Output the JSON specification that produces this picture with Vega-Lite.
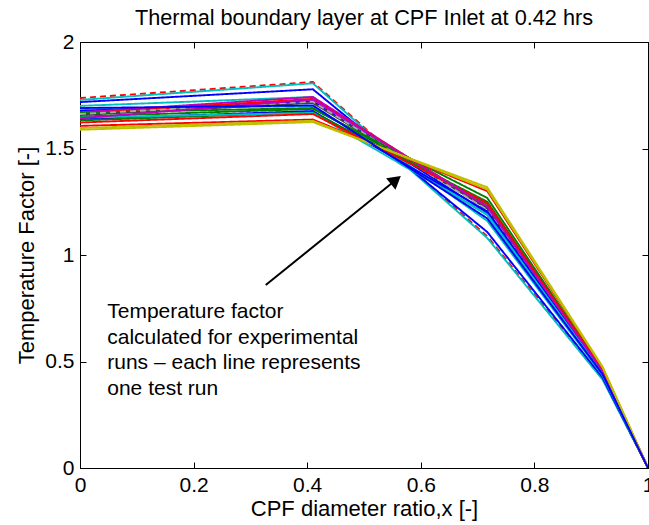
{
  "$schema": "https://vega.github.io/schema/vega-lite/v6.json",
  "width": 568,
  "height": 426,
  "autosize": {"type": "none"},
  "padding": {"left": 80, "top": 42, "right": 1, "bottom": 57},
  "title": {"text": "Thermal boundary layer at CPF Inlet at 0.42 hrs", "fontSize": 21.7, "fontWeight": "normal", "font": "Liberation Sans", "color": "#000000", "anchor": "middle", "frame": "group", "baseline": "alphabetic", "offset": -16},
  "config": {
    "font": "Liberation Sans",
    "view": {"stroke": "#000000", "strokeWidth": 1},
    "axis": {"grid": false, "domainColor": "#000000", "tickColor": "#000000", "labelColor": "#000000", "titleColor": "#000000", "labelFontSize": 21, "titleFontSize": 22, "titleFontWeight": "normal", "labelFont": "Liberation Sans", "titleFont": "Liberation Sans", "tickSize": -6, "labelFlush": false, "labelOverlap": false}
  },
  "datasets": {
    "runs": [
      {"run": "r01", "x": 0, "y": 1.737}, {"run": "r01", "x": 0.41, "y": 1.812}, {"run": "r01", "x": 0.717, "y": 1.088}, {"run": "r01", "x": 0.92, "y": 0.42}, {"run": "r01", "x": 1, "y": 0},
      {"run": "r02", "x": 0, "y": 1.728}, {"run": "r02", "x": 0.41, "y": 1.806}, {"run": "r02", "x": 0.717, "y": 1.08}, {"run": "r02", "x": 0.92, "y": 0.415}, {"run": "r02", "x": 1, "y": 0},
      {"run": "r03", "x": 0, "y": 1.718}, {"run": "r03", "x": 0.41, "y": 1.778}, {"run": "r03", "x": 0.717, "y": 1.108}, {"run": "r03", "x": 0.92, "y": 0.425}, {"run": "r03", "x": 1, "y": 0},
      {"run": "r04", "x": 0, "y": 1.70}, {"run": "r04", "x": 0.41, "y": 1.742}, {"run": "r04", "x": 0.717, "y": 1.16}, {"run": "r04", "x": 0.92, "y": 0.435}, {"run": "r04", "x": 1, "y": 0},
      {"run": "r05", "x": 0, "y": 1.683}, {"run": "r05", "x": 0.41, "y": 1.70}, {"run": "r05", "x": 0.717, "y": 1.188}, {"run": "r05", "x": 0.92, "y": 0.44}, {"run": "r05", "x": 1, "y": 0},
      {"run": "r06", "x": 0, "y": 1.676}, {"run": "r06", "x": 0.41, "y": 1.722}, {"run": "r06", "x": 0.717, "y": 1.198}, {"run": "r06", "x": 0.92, "y": 0.445}, {"run": "r06", "x": 1, "y": 0},
      {"run": "r07", "x": 0, "y": 1.67}, {"run": "r07", "x": 0.41, "y": 1.742}, {"run": "r07", "x": 0.717, "y": 1.222}, {"run": "r07", "x": 0.92, "y": 0.45}, {"run": "r07", "x": 1, "y": 0},
      {"run": "r08", "x": 0, "y": 1.664}, {"run": "r08", "x": 0.41, "y": 1.733}, {"run": "r08", "x": 0.717, "y": 1.23}, {"run": "r08", "x": 0.92, "y": 0.452}, {"run": "r08", "x": 1, "y": 0},
      {"run": "r09", "x": 0, "y": 1.668}, {"run": "r09", "x": 0.41, "y": 1.69}, {"run": "r09", "x": 0.717, "y": 1.24}, {"run": "r09", "x": 0.92, "y": 0.455}, {"run": "r09", "x": 1, "y": 0},
      {"run": "r10", "x": 0, "y": 1.657}, {"run": "r10", "x": 0.41, "y": 1.714}, {"run": "r10", "x": 0.717, "y": 1.218}, {"run": "r10", "x": 0.92, "y": 0.45}, {"run": "r10", "x": 1, "y": 0},
      {"run": "r11", "x": 0, "y": 1.662}, {"run": "r11", "x": 0.41, "y": 1.72}, {"run": "r11", "x": 0.717, "y": 1.212}, {"run": "r11", "x": 0.92, "y": 0.448}, {"run": "r11", "x": 1, "y": 0},
      {"run": "r12", "x": 0, "y": 1.65}, {"run": "r12", "x": 0.41, "y": 1.686}, {"run": "r12", "x": 0.717, "y": 1.268}, {"run": "r12", "x": 0.92, "y": 0.462}, {"run": "r12", "x": 1, "y": 0},
      {"run": "r13", "x": 0, "y": 1.638}, {"run": "r13", "x": 0.41, "y": 1.676}, {"run": "r13", "x": 0.717, "y": 1.205}, {"run": "r13", "x": 0.92, "y": 0.452}, {"run": "r13", "x": 1, "y": 0},
      {"run": "r14", "x": 0, "y": 1.632}, {"run": "r14", "x": 0.41, "y": 1.67}, {"run": "r14", "x": 0.717, "y": 1.25}, {"run": "r14", "x": 0.92, "y": 0.458}, {"run": "r14", "x": 1, "y": 0},
      {"run": "r15", "x": 0, "y": 1.645}, {"run": "r15", "x": 0.41, "y": 1.667}, {"run": "r15", "x": 0.717, "y": 1.19}, {"run": "r15", "x": 0.92, "y": 0.445}, {"run": "r15", "x": 1, "y": 0},
      {"run": "r16", "x": 0, "y": 1.622}, {"run": "r16", "x": 0.41, "y": 1.662}, {"run": "r16", "x": 0.717, "y": 1.245}, {"run": "r16", "x": 0.92, "y": 0.46}, {"run": "r16", "x": 1, "y": 0},
      {"run": "r17", "x": 0, "y": 1.642}, {"run": "r17", "x": 0.41, "y": 1.73}, {"run": "r17", "x": 0.717, "y": 1.228}, {"run": "r17", "x": 0.92, "y": 0.455}, {"run": "r17", "x": 1, "y": 0},
      {"run": "r18", "x": 0, "y": 1.606}, {"run": "r18", "x": 0.41, "y": 1.636}, {"run": "r18", "x": 0.717, "y": 1.30}, {"run": "r18", "x": 0.92, "y": 0.47}, {"run": "r18", "x": 1, "y": 0},
      {"run": "r19", "x": 0, "y": 1.596}, {"run": "r19", "x": 0.41, "y": 1.63}, {"run": "r19", "x": 0.717, "y": 1.308}, {"run": "r19", "x": 0.92, "y": 0.472}, {"run": "r19", "x": 1, "y": 0},
      {"run": "r20", "x": 0, "y": 1.588}, {"run": "r20", "x": 0.41, "y": 1.624}, {"run": "r20", "x": 0.717, "y": 1.318}, {"run": "r20", "x": 0.92, "y": 0.476}, {"run": "r20", "x": 1, "y": 0},
      {"run": "r21", "x": 0, "y": 1.69}, {"run": "r21", "x": 0.41, "y": 1.702}, {"run": "r21", "x": 0.717, "y": 1.172}, {"run": "r21", "x": 0.92, "y": 0.44}, {"run": "r21", "x": 1, "y": 0}
    ],
    "arrow": [{"x": 0.327, "y": 0.859, "x2": 0.556, "y2": 1.352, "angle": 51}],
    "note": [{"x": 0.048, "y": 0.732, "label": "Temperature factor\ncalculated for experimental\nruns – each line represents\none test run"}]
  },
  "layer": [
    {
      "data": {"name": "runs"},
      "mark": {"type": "line", "strokeWidth": 1.9, "clip": true},
      "encoding": {
        "x": {"field": "x", "type": "quantitative", "scale": {"domain": [0, 1], "nice": false, "zero": false}, "axis": {"values": [0, 0.2, 0.4, 0.6, 0.8, 1], "format": "~g", "title": "CPF diameter ratio,x [-]", "labelPadding": 12, "titlePadding": 3}},
        "y": {"field": "y", "type": "quantitative", "scale": {"domain": [0, 2], "nice": false}, "axis": {"values": [0, 0.5, 1, 1.5, 2], "format": "~g", "title": "Temperature Factor [-]", "labelPadding": 12, "titlePadding": 6}},
        "color": {"field": "run", "type": "nominal", "legend": null, "scale": {
          "domain": ["r01","r02","r03","r04","r05","r06","r07","r08","r09","r10","r11","r12","r13","r14","r15","r16","r17","r18","r19","r20","r21"],
          "range": ["#ff0000","#00bfbf","#0000ff","#00bfbf","#00bfbf","#0000ff","#bf00bf","#ff0000","#008000","#404040","#a8a8a8","#008000","#0000ff","#008000","#00bfbf","#ff0000","#bf00bf","#ff0000","#bfbf00","#bfbf00","#0000ff"]}},
        "strokeDash": {"field": "run", "type": "nominal", "legend": null, "scale": {
          "domain": ["r01","r02","r03","r04","r05","r06","r07","r08","r09","r10","r11","r12","r13","r14","r15","r16","r17","r18","r19","r20","r21"],
          "range": [[6,4],[1,0],[1,0],[1,0],[1,0],[1,0],[1,0],[1,0],[1,0],[1,0],[6,4],[1,0],[1,0],[1,0],[1,0],[1,0],[1,0],[1,0],[1,0],[1,0],[1,0]]}}
      }
    },
    {
      "data": {"name": "runs"},
      "mark": {"type": "point", "opacity": 0},
      "encoding": {
        "x": {"field": "x", "type": "quantitative", "axis": {"orient": "top", "values": [0, 0.2, 0.4, 0.6, 0.8, 1], "labels": false, "title": null}},
        "y": {"field": "y", "type": "quantitative", "axis": {"orient": "right", "values": [0, 0.5, 1, 1.5, 2], "labels": false, "title": null}}
      }
    },
    {
      "data": {"name": "arrow"},
      "mark": {"type": "rule", "color": "#000000", "strokeWidth": 2},
      "encoding": {
        "x": {"field": "x", "type": "quantitative", "axis": null},
        "y": {"field": "y", "type": "quantitative", "axis": null},
        "x2": {"field": "x2"},
        "y2": {"field": "y2"}
      }
    },
    {
      "data": {"name": "arrow"},
      "mark": {"type": "point", "shape": "triangle-up", "filled": true, "color": "#000000", "size": 220, "opacity": 1},
      "encoding": {
        "x": {"field": "x2", "type": "quantitative", "axis": null},
        "y": {"field": "y2", "type": "quantitative", "axis": null},
        "angle": {"field": "angle", "type": "quantitative", "scale": null}
      }
    },
    {
      "data": {"name": "note"},
      "mark": {"type": "text", "align": "left", "baseline": "middle", "fontSize": 21, "font": "Liberation Sans", "color": "#000000", "lineBreak": "\n", "lineHeight": 25.7},
      "encoding": {
        "x": {"field": "x", "type": "quantitative", "axis": null},
        "y": {"field": "y", "type": "quantitative", "axis": null},
        "text": {"field": "label"}
      }
    }
  ],
  "resolve": {"axis": {"x": "independent", "y": "independent"}}
}
